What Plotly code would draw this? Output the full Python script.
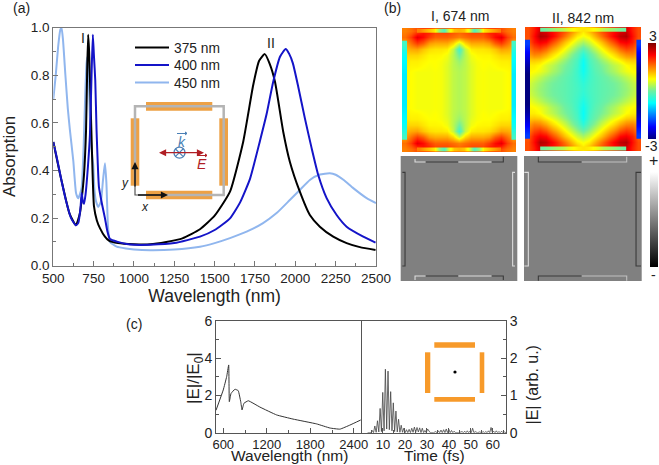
import plotly.graph_objects as go

W, H = 659, 465
FONT = "Liberation Sans"
TXT = "#222222"

# ---------- panel (a): absorption spectra ----------
wl_375 = [500,550,600,640,665,676,690,703,710,716,722,731,740,752,770,789,820,845,900,1000,1100,1200,1300,1409,1500,1595,
          1677,1739,1775,1811,1840,1874,1925,1966,2028,2090,2152,2235,2318,2400,2497]
abs_375 = [.52,.36,.22,.17,.22,.28,.38,.57,.82,.97,.90,.69,.47,.25,.19,.158,.122,.105,.095,.09,.09,.10,.115,.153,.21,.311,
           .521,.759,.86,.889,.85,.773,.563,.437,.311,.213,.164,.122,.095,.078,.066]
wl_400 = [500,520,550,580,610,640,655,668,676,683,690,700,715,727,737,745,752,760,768,775,783,803,820,835,851,900,955,1000,
          1100,1250,1409,1500,1595,1657,1719,1781,1822,1863,1905,1940,1962,1985,2018,2059,2101,2142,2194,2256,2318,2421,2497]
abs_400 = [.52,.46,.36,.27,.20,.17,.18,.24,.305,.27,.26,.30,.42,.55,.80,.97,.88,.78,.57,.44,.33,.255,.20,.145,.112,.10,.091,.088,
           .088,.095,.122,.15,.199,.265,.365,.525,.637,.773,.878,.91,.89,.85,.752,.62,.494,.381,.284,.213,.164,.122,.097]
wl_450 = [500,515,530,543,551,560,575,590,603,624,641,654,665,676,688,698,706,711,718,728,740,748,755,765,779,795,808,820,829,839,851,893,950,
          1000,1100,1250,1409,1500,1595,1698,1800,1884,1966,2028,2090,2152,2214,2250,2300,2359,2442,2500]
abs_450 = [.70,.80,.92,.99,1.0,.95,.80,.66,.57,.44,.305,.283,.30,.33,.50,.72,.85,.877,.82,.60,.47,.423,.32,.27,.247,.27,.36,.43,.35,.164,.10,.08,.072,
           .068,.065,.068,.08,.095,.116,.143,.179,.221,.276,.318,.36,.383,.388,.382,.36,.326,.284,.263]
series_names = ["375 nm", "400 nm", "450 nm"]
series_colors = ["#000000", "#1414c8", "#90b6ee"]

# ---------- panel (b): field maps, upper-left quadrants (rows top to centre, columns left to centre) ----------
map1_quad = [
    [1.5,1.6,1.8,2.1,2.1,1.9,1.9,1.9,1.8,1.7],
    [1.6,1.9,2.4,2.2,1.9,1.7,1.7,1.7,1.6,1.5],
    [1.3,1.6,1.9,1.7,1.35,1.25,1.25,1.25,1.0,.50],
    [1.15,1.25,1.3,1.1,.95,.90,.90,.85,.45,-.3],
    [1.0,1.0,1.0,.90,.80,.80,.78,.68,.38,0.0],
    [.90,.85,.85,.80,.75,.75,.72,.62,.40,.20],
    [.85,.80,.80,.75,.72,.75,.70,.58,.40,.30],
    [.80,.75,.70,.70,.70,.72,.70,.58,.42,.35],
    [.80,.75,.70,.70,.70,.72,.70,.58,.42,.35],
    [.80,.75,.70,.70,.70,.72,.70,.58,.42,.35],
    [.80,.75,.70,.70,.70,.72,.70,.58,.42,.35],
]
map2_quad = [
    [1.8,2.1,2.5,2.4,2.2,2.0,1.8,1.5,1.2,.90],
    [1.8,2.2,2.7,2.6,2.25,1.9,1.55,1.2,.85,.70],
    [1.7,2.1,2.3,2.2,1.8,1.45,1.1,.80,.50,.30],
    [1.5,1.8,1.9,1.7,1.35,1.05,.75,.45,.15,-.1],
    [1.3,1.5,1.45,1.25,.95,.70,.45,.15,-.1,-.45],
    [1.05,1.1,1.05,.85,.65,.42,.20,-.02,-.25,-.65],
    [.85,.85,.75,.55,.40,.20,.05,-.10,-.30,-.70],
    [.80,.75,.65,.50,.30,.15,-.02,-.15,-.35,-.65],
    [.70,.55,.40,.25,.12,0.0,-.10,-.20,-.33,-.55],
    [.55,.40,.25,.12,.02,-.05,-.12,-.20,-.30,-.45],
    [.50,.35,.20,.10,0.0,-.07,-.12,-.20,-.28,-.40],
]
map1_top_strip = [1.5,1.3,1.1,.9,.2,-.2,.6,1.1,1.2,1.1,.6,-.2,.2,.9,1.1,1.3,1.5]
map1_side_strip = [-.3,-.6,-.75,-.8,-.85,-.85,-.85,-.85,-.85,-.8,-.75,-.6,-.3]
map2_top_strip = [.0,.1,.2,.3,.4,.6,.75,.85,.9,.85,.75,.6,.4,.3,.2,.1,.0]
map2_side_strip = [-1.9,-2.2,-2.5,-2.8,-3.0,-3.0,-3.0,-3.0,-3.0,-2.8,-2.5,-2.2,-1.9]
JET = [[0,"#00007f"],[.125,"#0000ff"],[.375,"#00ffff"],[.5,"#70f0a0"],[.625,"#ffff00"],[.875,"#ff0000"],[1,"#7f0000"]]

# charge lines in the grey maps: (x list, y list, colour)
DARK, LIGHT = "#3a3a3a", "#dcdcdc"
grey1_lines = [
    ([60,60,92],[27,36,36],LIGHT), ([92,190],[36,36],DARK), ([190,290],[36,36],LIGHT), ([290,325,325],[36,36,20],DARK),
    ([60,60,92],[390,378,378],LIGHT), ([92,190],[378,378],DARK), ([190,290],[378,378],LIGHT), ([290,325,325],[378,378,390],DARK),
    ([22,30,30,22],[67,67,348,348],DARK), ([360,353,353,360],[67,67,348,348],LIGHT),
]
grey2_lines = [
    ([430,430,560],[20,36,36],DARK), ([560,695,695],[36,36,20],"#c0c0c0"),
    ([430,430,560],[392,378,378],DARK), ([560,695,695],[378,378,392],"#c0c0c0"),
    ([388,400,400,388],[67,67,348,348],LIGHT), ([738,723,723,738],[67,67,348,348],DARK),
]

# ---------- panel (c) ----------
wl_c = [500,600,647,675,684,707,762,807,841,859,886,946,1107,1337,1562,1889,2072,2210,2348,2496]
en_c = [1.2,2.29,3.0,3.63,1.66,2.1,2.33,2.25,1.66,1.22,1.58,1.71,1.37,.95,.73,.47,.25,.19,.41,.68]
t_fs = [3,4.5,5.1,5.7,6.3,6.9,7.5,8.1,8.7,9.3,
        9.9,10.5,11.1,11.7,12.3,12.9,13.5,14.1,14.7,15.3,
        15.9,16.5,17.1,17.7,18.3,18.9,19.5,20.1,20.7,21.3,
        21.9,22.5,23.1,23.7,24.3,24.9,25.5,26.1,26.7,27.3,
        27.9,28.5,29.1,29.7,30.3,31.5,33,34,34.6,35.2,
        35.8,36.4,37,37.6,38.2,38.8,39.4,40,40.6,41.2,
        41.8,42.4,43,44.5,46,46.6,47.2,47.8,48.4,49,
        49.6,50.2,50.8,51.4,52,53,54,55,55.6,56.2,
        56.8,57.4,58,58.6,59.2,59.8,60.4,61,61.6,62.2,
        62.8,63.4,64,64.6,65.2,66]
e_fs = [0,0,.06,0,.18,.01,.32,.02,.65,.03,
        1.08,.05,1.7,.1,1.65,.08,1.1,.05,.8,.03,
        .58,.02,.36,.01,.2,.01,.12,0,.08,0,
        .09,0,.12,.01,.15,.01,.14,.02,.13,0,
        .12,0,.06,0,.1,0,0,.03,0,.05,
        0,.07,0,.08,0,.1,0,.09,0,.06,
        0,.04,0,0,.03,0,.04,0,.05,0,
        .04,0,.12,0,.03,0,.02,0,.03,0,
        .03,0,.05,0,.14,0,.04,0,.05,0,
        .03,0,.04,0,.02,0]

# ---------- helpers ----------
def xp(v): return v / W
def yp(v): return 1 - v / H
def dom_x(a, b): return [xp(a), xp(b)]
def dom_y(top, bottom): return [yp(bottom), yp(top)]
def mirror(quad):
    rows = [r + r[-2::-1] for r in quad]
    return rows + rows[-2::-1]

fig = go.Figure()

# panel (a) traces: light first so black and blue sit above it; one small legend per row
legend_ids = ["legend", "legend2", "legend3"]
for i in (2, 0, 1):
    xs = [wl_375, wl_400, wl_450][i]
    ys = [abs_375, abs_400, abs_450][i]
    fig.add_trace(go.Scatter(x=xs, y=ys, mode="lines", name=series_names[i], legend=legend_ids[i],
                             line=dict(color=series_colors[i], width=2, shape="spline", smoothing=0.5),
                             xaxis="x", yaxis="y"))

# panel (b) maps
for ax, quad, top, side in [("2", map1_quad, map1_top_strip, map1_side_strip),
                            ("3", map2_quad, map2_top_strip, map2_side_strip)]:
    fig.add_trace(go.Heatmap(z=mirror(quad), zsmooth="best", coloraxis="coloraxis",
                             xaxis="x" + ax, yaxis="y" + ax, hoverinfo="skip"))
    sx = [2.4 + 13.2 * k / (len(top) - 1) for k in range(len(top))]
    for yy in ([-0.22, 0.1], [19.9, 20.22]):
        fig.add_trace(go.Heatmap(z=[top, top], x=sx, y=yy, zsmooth="best", coloraxis="coloraxis",
                                 xaxis="x" + ax, yaxis="y" + ax, hoverinfo="skip"))
    sy = [2.3 + 15.4 * k / (len(side) - 1) for k in range(len(side))]
    for xx in ([-0.35, 0.05], [17.95, 18.35]):
        fig.add_trace(go.Heatmap(z=[[v, v] for v in side], x=xx, y=sy, zsmooth="best", coloraxis="coloraxis",
                                 xaxis="x" + ax, yaxis="y" + ax, hoverinfo="skip"))

# grey charge maps
for ax, lines, xr in [("4", grey1_lines, [17, 367]), ("5", grey2_lines, [387, 740])]:
    fig.add_trace(go.Heatmap(z=[[0, 0], [0, 0]], x=xr, y=[18, 393], coloraxis="coloraxis2",
                             xaxis="x" + ax, yaxis="y" + ax, hoverinfo="skip"))
    for lx, ly, lc in lines:
        fig.add_trace(go.Scatter(x=lx, y=ly, mode="lines", line=dict(color=lc, width=1.1),
                                 showlegend=False, xaxis="x" + ax, yaxis="y" + ax, hoverinfo="skip"))

# panel (c)
fig.add_trace(go.Scatter(x=wl_c, y=en_c, mode="lines", line=dict(color="#333333", width=1, shape="spline", smoothing=0.3),
                         showlegend=False, xaxis="x6", yaxis="y6"))
fig.add_trace(go.Scatter(x=t_fs, y=e_fs, mode="lines", line=dict(color="#444444", width=0.8),
                         showlegend=False, xaxis="x7", yaxis="y7"))

def axis(domain, rng, **kw):
    base = dict(domain=domain, range=rng, showgrid=False, zeroline=False, showline=True, mirror=True,
                linecolor="#777777", linewidth=1.3, ticks="inside", ticklen=5, tickcolor="#777777",
                tickfont=dict(family=FONT, size=13.5, color=TXT))
    base.update(kw)
    return base

hidden = dict(visible=False, showgrid=False, zeroline=False)

def rect(x0, y0, x1, y1, color):
    return dict(type="rect", xref="paper", yref="paper", x0=xp(x0), x1=xp(x1), y0=yp(y0), y1=yp(y1),
                fillcolor=color, line=dict(width=0), layer="above")
def seg(points, color, width):
    path = "M " + " L ".join(f"{xp(a):.5f},{yp(b):.5f}" for a, b in points)
    return dict(type="path", xref="paper", yref="paper", path=path, line=dict(color=color, width=width), layer="above")

ORANGE_A, ORANGE_C, GREYF = "#eda145", "#f79a2a", "#b4b4b4"
RED, BLUE_K = "#b01e24", "#4a7fb5"
shapes = [
    rect(146,102,212.3,110.7,ORANGE_A), rect(146,190.7,212.3,199.3,ORANGE_A),
    rect(130.7,118.3,139.3,185.7,ORANGE_A), rect(219.3,118.3,228,185.7,ORANGE_A),
    seg([(135,180),(135,106.3),(223.7,106.3),(223.7,195),(165,195)], GREYF, 2.5),
    seg([(135,165),(135,195),(165,195)], "#555555", 1.2),
    dict(type="circle", xref="paper", yref="paper", x0=xp(174), x1=xp(185), y0=yp(147.2), y1=yp(158.2),
         line=dict(color=BLUE_K, width=1.3), layer="above"),
    seg([(175.5,149),(183,156.4)], BLUE_K, 1.1), seg([(183,149),(175.5,156.4)], BLUE_K, 1.1),
    seg([(177,133.5),(187,133.5),(185,132),(187,133.5),(185,135)], BLUE_K, 1),
    seg([(197,155.5),(207,155.5),(205,154),(207,155.5),(205,157)], RED, 1),
    rect(434.3,342.3,475,347.7,ORANGE_C), rect(434.3,397,475,401.7,ORANGE_C),
    rect(425,352.3,430.3,393,ORANGE_C), rect(479.7,352.3,484.3,393,ORANGE_C),
    dict(type="circle", xref="paper", yref="paper", x0=xp(453.4), x1=xp(456.6), y0=yp(370.4), y1=yp(373.6),
         fillcolor="#000000", line=dict(width=0), layer="above"),
]

def note(x, y, text, size=13.5, color=TXT, **kw):
    return dict(x=xp(x), y=yp(y), xref="paper", yref="paper", text=text, showarrow=False,
                font=dict(family=FONT, size=size, color=color), xanchor="center", yanchor="middle", **kw)
def arrow(x, y, ax, ay, color, side="end"):
    return dict(x=xp(x), y=yp(y), xref="paper", yref="paper", ax=ax, ay=ay, axref="pixel", ayref="pixel", text=" ",
                showarrow=True, arrowcolor=color, arrowhead=2, arrowsize=1.1, arrowwidth=1.3, arrowside=side)

annotations = [
    note(21,8,"(a)",14), note(392,8,"(b)",14), note(134,324,"(c)",14),
    note(82.5,38,"I",14), note(271.3,43,"II",14),
    note(460,16,"I, 674 nm",14), note(582.7,18,"II, 842 nm",14),
    note(652.5,36,"3",14), note(651.5,146,"-3",14), note(653,161,"+",16), note(653,275,"-",14),
    note(9,157,"Absorption",17,textangle=-90),
    note(531.5,385,"|E| (arb. u.)",16,textangle=-90),
    note(195,378,"|E|/|E<sub>0</sub>|",17,textangle=-90),
    note(125,183,"<i>y</i>",12), note(145,207,"<i>x</i>",12),
    note(182,142,"<i>k</i>",14,BLUE_K), note(202,164,"<i>E</i>",14,RED),
    note(289,455.5,"Wavelength (nm)",15.5), note(434,455.5,"Time (fs)",15.5),
    arrow(135,162,0,33,"#111111"), arrow(168,195,-33,0,"#111111"),
    arrow(204,152.7,-48,0,RED,"end+start"),
]

def small_legend(top):
    return dict(x=xp(130), y=yp(top), xanchor="left", yanchor="top", bgcolor="rgba(0,0,0,0)",
                font=dict(family=FONT, size=13.8, color=TXT), itemwidth=34)

fig.update_layout(
    width=W, height=H, margin=dict(l=0, r=0, t=0, b=0, autoexpand=False),
    paper_bgcolor="white", plot_bgcolor="white",
    font=dict(family=FONT, color=TXT),
    legend=small_legend(32), legend2=small_legend(49.5), legend3=small_legend(67),
    xaxis=axis(dom_x(53.3,376), [500,2500], tick0=500, dtick=250, minor=dict(dtick=125, ticks="inside", ticklen=3, tickcolor="#777777"),
               title=dict(text="Wavelength (nm)", font=dict(family=FONT, size=17.5, color=TXT), standoff=1), anchor="y"),
    yaxis=axis(dom_y(27.7,265.7), [0,1], tick0=0, dtick=.2, tickformat=".1f", minor=dict(dtick=.1, ticks="inside", ticklen=3, tickcolor="#777777"), anchor="x"),
    xaxis2=dict(hidden, domain=dom_x(402,516), range=[-0.5,18.5], anchor="y2"),
    yaxis2=dict(hidden, domain=dom_y(28,152), range=[20.5,-0.5], anchor="x2"),
    xaxis3=dict(hidden, domain=dom_x(525,641), range=[-0.5,18.5], anchor="y3"),
    yaxis3=dict(hidden, domain=dom_y(27,151), range=[20.5,-0.5], anchor="x3"),
    xaxis4=dict(hidden, domain=dom_x(400.7,517.3), range=[17,367], anchor="y4"),
    yaxis4=dict(hidden, domain=dom_y(156,281), range=[393,18], anchor="x4"),
    xaxis5=dict(hidden, domain=dom_x(524,641.7), range=[387,740], anchor="y5"),
    yaxis5=dict(hidden, domain=dom_y(156,281), range=[393,18], anchor="x5"),
    xaxis6=axis(dom_x(216,361), [500,2500], tickvals=[600,1200,1800,2400], minor=dict(tickvals=[900,1500,2100], ticks="inside", ticklen=3, tickcolor="#555555"),
                linecolor="#555555", linewidth=1, tickcolor="#555555", tickfont=dict(family=FONT, size=13, color=TXT), anchor="y6"),
    yaxis6=axis(dom_y(320.7,432.7), [0,6], dtick=2, minor=dict(dtick=1, ticks="inside", ticklen=3, tickcolor="#555555"),
                linecolor="#555555", linewidth=1, tickcolor="#555555", tickfont=dict(family=FONT, size=14, color=TXT), anchor="x6"),
    xaxis7=axis(dom_x(361,506), [0,66], tickvals=[10,20,30,40,50,60], minor=dict(dtick=5, tick0=0, ticks="inside", ticklen=3, tickcolor="#555555"),
                linecolor="#555555", linewidth=1, tickcolor="#555555", tickfont=dict(family=FONT, size=13, color=TXT), anchor="y7"),
    yaxis7=axis(dom_y(320.7,432.7), [0,3], dtick=1, side="right", mirror=False, minor=dict(dtick=.5, ticks="inside", ticklen=3, tickcolor="#555555"),
                linecolor="#555555", linewidth=1, tickcolor="#555555", tickfont=dict(family=FONT, size=14, color=TXT), anchor="x7"),
    coloraxis=dict(cmin=-3, cmax=3, colorscale=JET,
                   colorbar=dict(x=xp(648), xanchor="left", xpad=0, thickness=8, y=yp(43), yanchor="top", ypad=0,
                                 lenmode="pixels", len=96, showticklabels=False, ticks="", outlinewidth=0)),
    coloraxis2=dict(cmin=-1, cmax=1, colorscale=[[0,"#000000"],[.5,"#808080"],[1,"#ffffff"]],
                    colorbar=dict(x=xp(650), xanchor="left", xpad=0, thickness=8, y=yp(172), yanchor="top", ypad=0,
                                  lenmode="pixels", len=95, showticklabels=False, ticks="", outlinewidth=0)),
    shapes=shapes, annotations=annotations, hovermode=False,
)

fig.write_html("out.html", config=dict(displayModeBar=False), post_script="document.body.style.margin='0';")
